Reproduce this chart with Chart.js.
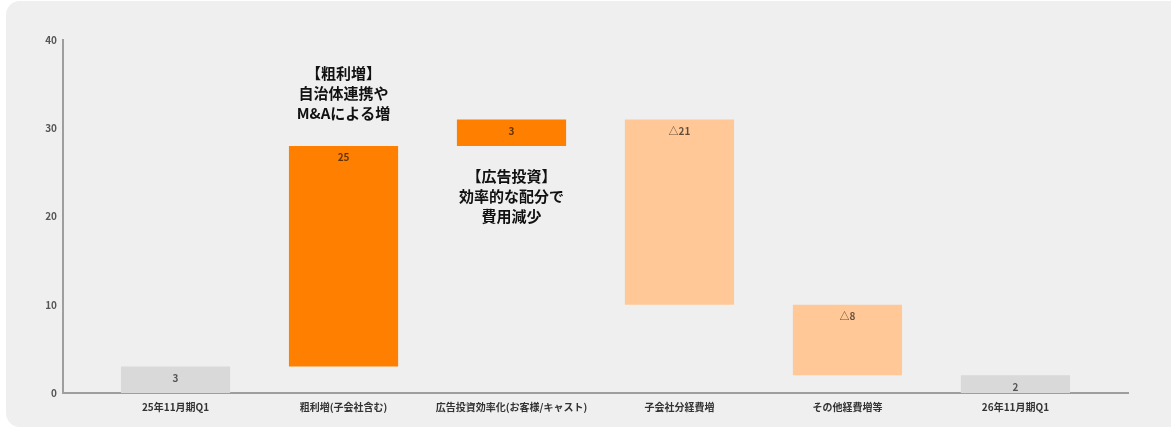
<!DOCTYPE html>
<html lang="ja">
<head>
<meta charset="utf-8">
<title>25年11月期Q1 → 26年11月期Q1</title>
<script src="https://cdn.jsdelivr.net/npm/chart.js@4.4.1/dist/chart.umd.min.js"></script>
<style>
    html, body { margin: 0; padding: 0; background: #fff; }
    body { width: 1171px; height: 429px; position: relative; overflow: hidden; }
    .tarjeta {
        position: absolute; left: 6px; top: 1px;
        width: 1180px; height: 426px;
        background: #efefef; border-radius: 14px;
    }
    #grafico { position: absolute; left: 0; top: 0; }
</style>
</head>
<body>
<div class="tarjeta"></div>
<canvas id="grafico" width="1171" height="429"></canvas>
<script>
const categorias = ['25年11月期Q1', '粗利増(子会社含む)', '広告投資効率化(お客様/キャスト)', '子会社分経費増', 'その他経費増等', '26年11月期Q1'];
const tipos = ['total', 'sube', 'sube', 'baja', 'baja', 'total'];
const valores = [3, 25, 3, -21, -8, 2];

const notaGrueso = ['【粗利増】', '自治体連携や', 'M&Aによる増'];
const notaPublicidad = ['【広告投資】', '効率的な配分で', '費用減少'];

const FUENTE = '"Noto Sans CJK JP", "Noto Sans", sans-serif';
const colorTipo = { total: '#d9d9d9', sube: '#ff8000', baja: '#ffc896' };

// Rangos flotantes de la cascada: los totales parten de 0, el resto del acumulado
let acumulado = 0;
const rangos = valores.map((v, i) => {
    if (tipos[i] === 'total') {
        acumulado = v;
        return [0, v];
    }
    const r = [acumulado, acumulado + v];
    acumulado += v;
    return r;
});

const textos = valores.map((v, i) => tipos[i] === 'baja' ? '△' + Math.abs(v) : String(v));

const etiquetas = {
    id: 'etiquetas',
    afterDatasetsDraw(chart) {
        const { ctx } = chart;
        const meta = chart.getDatasetMeta(0);
        ctx.save();
        ctx.textAlign = 'center';
        ctx.textBaseline = 'middle';

        // Valor dentro de cada barra, arriba
        ctx.font = `bold 10px ${FUENTE}`;
        ctx.fillStyle = 'rgba(0, 0, 0, 0.62)';
        meta.data.forEach((barra, i) => {
            const arriba = Math.min(barra.y, barra.base);
            ctx.fillText(textos[i], barra.x, arriba + 11.5);
        });

        // Notas explicativas
        ctx.font = `bold 15px ${FUENTE}`;
        ctx.fillStyle = '#111';
        const notas = [
            { x: 1, y: 36.25, lineas: notaGrueso },
            { x: 2, y: 24.6, lineas: notaPublicidad }
        ];
        notas.forEach(nota => {
            const px = chart.scales.x.getPixelForValue(nota.x);
            const py = chart.scales.y.getPixelForValue(nota.y);
            nota.lineas.forEach((linea, k) => ctx.fillText(linea, px, py + k * 20));
        });
        ctx.restore();
    }
};

new Chart(document.getElementById('grafico'), {
    type: 'bar',
    data: {
        datasets: [{
            data: rangos.map((r, i) => ({ x: i, y: r })),
            backgroundColor: tipos.map(t => colorTipo[t]),
            borderWidth: 0,
            barPercentage: 0.65,
            categoryPercentage: 1
        }]
    },
    options: {
        responsive: false,
        animation: false,
        devicePixelRatio: 1,
        layout: { padding: { left: 0, top: 40, right: 43, bottom: 0 } },
        plugins: {
            legend: { display: false },
            tooltip: { enabled: false }
        },
        scales: {
            x: {
                type: 'linear',
                offset: false,
                min: -0.67,
                max: 5.67,
                grid: { display: false, drawTicks: false },
                border: { color: '#9e9e9e', width: 2 },
                ticks: {
                    stepSize: 1,
                    includeBounds: false,
                    autoSkip: false,
                    maxRotation: 0,
                    padding: 8,
                    color: '#333',
                    font: { family: FUENTE, size: 10, weight: 'bold' },
                    callback: v => Number.isInteger(v) ? categorias[v] : ''
                },
                afterFit: escala => { escala.height = 36; }
            },
            y: {
                min: 0,
                max: 40,
                grid: { display: false, drawTicks: false },
                border: { color: '#9e9e9e', width: 2 },
                ticks: {
                    stepSize: 10,
                    padding: 6,
                    color: '#555',
                    font: { family: FUENTE, size: 10, weight: 'bold' }
                },
                afterFit: escala => { escala.width = 63; }
            }
        }
    },
    plugins: [etiquetas]
});
</script>
</body>
</html>
